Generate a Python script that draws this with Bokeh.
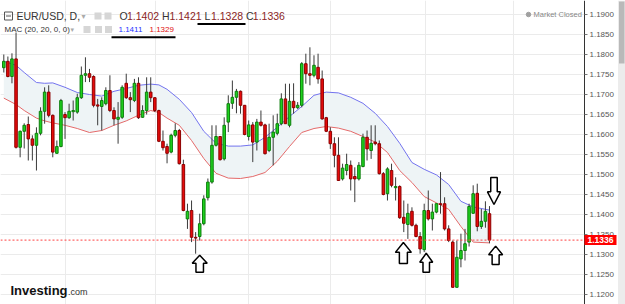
from bokeh.plotting import figure
from bokeh.models import Range1d, FixedTicker, PrintfTickFormatter, Label, ColumnDataSource, BoxAnnotation
from bokeh.embed import file_html
from bokeh.resources import INLINE

# ---------------- data (EUR/USD daily) ----------------
opens = [1.1767, 1.1783, 1.1745, 1.1789, 1.1568, 1.1608, 1.1625, 1.1589, 1.1573, 1.1603,
         1.1658, 1.1706, 1.1648, 1.1553, 1.1570, 1.1650, 1.1642, 1.1657, 1.1656, 1.1692,
         1.1748, 1.1752, 1.1745, 1.1674, 1.1670, 1.1677, 1.1710, 1.1660, 1.1638, 1.1643,
         1.1728, 1.1692, 1.1685, 1.1728, 1.1643, 1.1660, 1.1706, 1.1692, 1.1660, 1.1583,
         1.1570, 1.1556, 1.1598, 1.1610, 1.1525, 1.1389, 1.1410, 1.1343, 1.1345, 1.1377,
         1.1442, 1.1481, 1.1573, 1.1595, 1.1539, 1.1631, 1.1678, 1.1693, 1.1708, 1.1673,
         1.1595, 1.1624, 1.1581, 1.1631, 1.1624, 1.1560, 1.1593, 1.1603, 1.1627, 1.1689,
         1.1623, 1.1683, 1.1667, 1.1673, 1.1777, 1.1752, 1.1748, 1.1768, 1.1739, 1.1642,
         1.1608, 1.1577, 1.1548, 1.1489, 1.1510, 1.1523, 1.1495, 1.1489, 1.1520, 1.1593,
         1.1560, 1.1581, 1.1577, 1.1502, 1.1452, 1.1510, 1.1467, 1.1470, 1.1393, 1.1375,
         1.1408, 1.1373, 1.1345, 1.1312, 1.1410, 1.1389, 1.1406, 1.1427, 1.1427, 1.1364,
         1.1331, 1.1218, 1.1289, 1.1310, 1.1331, 1.1403, 1.1453, 1.1370, 1.1383, 1.1402]
highs = [1.1800, 1.1795, 1.1803, 1.1855, 1.1610, 1.1628, 1.1645, 1.1598, 1.1618, 1.1668,
         1.1718, 1.1723, 1.1650, 1.1585, 1.1689, 1.1656, 1.1677, 1.1685, 1.1702, 1.1770,
         1.1793, 1.1764, 1.1748, 1.1689, 1.1693, 1.1718, 1.1748, 1.1668, 1.1681, 1.1723,
         1.1752, 1.1706, 1.1739, 1.1743, 1.1673, 1.1743, 1.1743, 1.1693, 1.1662, 1.1610,
         1.1577, 1.1602, 1.1628, 1.1614, 1.1537, 1.1427, 1.1435, 1.1356, 1.1402, 1.1448,
         1.1490, 1.1623, 1.1623, 1.1595, 1.1643, 1.1698, 1.1735, 1.1714, 1.1710, 1.1673,
         1.1635, 1.1631, 1.1639, 1.1660, 1.1627, 1.1627, 1.1648, 1.1652, 1.1703, 1.1727,
         1.1727, 1.1728, 1.1681, 1.1781, 1.1802, 1.1818, 1.1798, 1.1802, 1.1760, 1.1644,
         1.1618, 1.1593, 1.1593, 1.1527, 1.1552, 1.1535, 1.1518, 1.1531, 1.1602, 1.1610,
         1.1623, 1.1623, 1.1585, 1.1506, 1.1518, 1.1527, 1.1493, 1.1473, 1.1435, 1.1427,
         1.1418, 1.1377, 1.1356, 1.1427, 1.1460, 1.1427, 1.1428, 1.1506, 1.1443, 1.1373,
         1.1335, 1.1335, 1.1352, 1.1364, 1.1427, 1.1473, 1.1477, 1.1414, 1.1433, 1.1421]
lows = [1.1755, 1.1743, 1.1728, 1.1565, 1.1543, 1.1565, 1.1535, 1.1535, 1.1510, 1.1598,
        1.1627, 1.1643, 1.1543, 1.1552, 1.1568, 1.1589, 1.1639, 1.1635, 1.1652, 1.1689,
        1.1731, 1.1731, 1.1668, 1.1623, 1.1610, 1.1673, 1.1656, 1.1623, 1.1577, 1.1639,
        1.1689, 1.1656, 1.1681, 1.1639, 1.1642, 1.1650, 1.1681, 1.1656, 1.1581, 1.1560,
        1.1528, 1.1553, 1.1593, 1.1525, 1.1408, 1.1364, 1.1331, 1.1302, 1.1335, 1.1373,
        1.1435, 1.1477, 1.1570, 1.1535, 1.1535, 1.1606, 1.1664, 1.1653, 1.1652, 1.1598,
        1.1585, 1.1531, 1.1560, 1.1620, 1.1550, 1.1556, 1.1523, 1.1598, 1.1623, 1.1627,
        1.1618, 1.1652, 1.1664, 1.1668, 1.1727, 1.1723, 1.1743, 1.1727, 1.1637, 1.1606,
        1.1564, 1.1518, 1.1485, 1.1485, 1.1498, 1.1460, 1.1431, 1.1485, 1.1518, 1.1535,
        1.1539, 1.1573, 1.1500, 1.1448, 1.1435, 1.1468, 1.1435, 1.1389, 1.1356, 1.1339,
        1.1370, 1.1343, 1.1302, 1.1306, 1.1385, 1.1360, 1.1403, 1.1402, 1.1360, 1.1331,
        1.1217, 1.1217, 1.1268, 1.1285, 1.1320, 1.1402, 1.1358, 1.1364, 1.1367, 1.1328]
closes = [1.1783, 1.1745, 1.1789, 1.1568, 1.1608, 1.1623, 1.1589, 1.1573, 1.1603, 1.1658,
          1.1706, 1.1648, 1.1556, 1.1570, 1.1685, 1.1642, 1.1658, 1.1660, 1.1692, 1.1748,
          1.1752, 1.1743, 1.1673, 1.1671, 1.1685, 1.1710, 1.1660, 1.1639, 1.1643, 1.1718,
          1.1692, 1.1687, 1.1728, 1.1642, 1.1660, 1.1706, 1.1692, 1.1660, 1.1583, 1.1567,
          1.1553, 1.1598, 1.1610, 1.1527, 1.1410, 1.1408, 1.1343, 1.1341, 1.1377, 1.1439,
          1.1481, 1.1573, 1.1595, 1.1537, 1.1623, 1.1677, 1.1693, 1.1708, 1.1673, 1.1600,
          1.1624, 1.1581, 1.1631, 1.1623, 1.1552, 1.1593, 1.1606, 1.1627, 1.1689, 1.1627,
          1.1683, 1.1667, 1.1673, 1.1777, 1.1752, 1.1748, 1.1773, 1.1739, 1.1639, 1.1608,
          1.1577, 1.1548, 1.1485, 1.1516, 1.1525, 1.1489, 1.1489, 1.1523, 1.1593, 1.1564,
          1.1578, 1.1577, 1.1502, 1.1450, 1.1514, 1.1473, 1.1470, 1.1392, 1.1378, 1.1403,
          1.1373, 1.1345, 1.1314, 1.1410, 1.1389, 1.1406, 1.1427, 1.1425, 1.1364, 1.1335,
          1.1218, 1.1293, 1.1310, 1.1327, 1.1420, 1.1452, 1.1370, 1.1383, 1.1408, 1.1336]

# moving-average channel (20, 20), read at sampled candle positions
ma_idx = [0, 3, 5, 8, 10, 12, 15, 18, 21, 24, 27, 30, 33, 36, 38, 40, 43, 46, 49, 52, 55,
          58, 61, 64, 67, 70, 73, 76, 79, 82, 85, 88, 91, 94, 97, 100, 103, 106, 109, 112, 115, 119]
ma_upper = [1.1783, 1.1773, 1.1755, 1.1730, 1.1728, 1.1729, 1.1718, 1.1705, 1.1700, 1.1696, 1.1708,
            1.1715, 1.1723, 1.1726, 1.1724, 1.1713, 1.1688, 1.1655, 1.1608, 1.1578, 1.1571,
            1.1571, 1.1574, 1.1593, 1.1618, 1.1645, 1.1670, 1.1698, 1.1706, 1.1704, 1.1693,
            1.1678, 1.1653, 1.1620, 1.1578, 1.1530, 1.1513, 1.1499, 1.1475, 1.1433, 1.1419, 1.1411]
ma_lower = [1.1691, 1.1675, 1.1660, 1.1641, 1.1634, 1.1629, 1.1623, 1.1615, 1.1605, 1.1610, 1.1623,
            1.1634, 1.1648, 1.1660, 1.1655, 1.1641, 1.1623, 1.1585, 1.1540, 1.1503, 1.1491,
            1.1490, 1.1495, 1.1505, 1.1533, 1.1570, 1.1605, 1.1615, 1.1620, 1.1616, 1.1608,
            1.1595, 1.1581, 1.1555, 1.1510, 1.1480, 1.1445, 1.1429, 1.1413, 1.1370, 1.1331, 1.1329]

y_ticks = [1.1200, 1.1250, 1.1300, 1.1350, 1.1400, 1.1450, 1.1500, 1.1550,
           1.1600, 1.1650, 1.1700, 1.1750, 1.1800, 1.1850, 1.1900]
month_grid = [15.1, 37.2, 60.0, 80.0, 103.3, 125.0]

# annotation arrows: candle position, tip price, direction (1 = up, -1 = down)
arrow_idx = [48.0, 97.9, 103.5, 120.5, 120.1]
arrow_tip = [1.1298, 1.1330, 1.1303, 1.1321, 1.1425]
arrow_dir = [1, 1, 1, 1, -1]

symbol = "EUR/USD, D,"
ohlc_labels = ["O", "H", "L", "C"]
ma_label = "MAC (20, 20, 0, 0)"
ma_last_upper = "1.1411"
ma_last_lower = "1.1329"

# ---------------- layout / scales ----------------
PX_PER_IDX = 4.0815
PX_PER_PRICE = 4000.0
CANVAS_W, FRAME_H = 625, 304
AXIS_PX = 584            # where the price axis sits
X0 = -3.3 / PX_PER_IDX
X1 = X0 + CANVAS_W / PX_PER_IDX
Y_TOP = 1.1935
Y_BOT = Y_TOP - FRAME_H / PX_PER_PRICE


def dx(px):
    return X0 + px / PX_PER_IDX


def dy(py):
    return Y_TOP - py / PX_PER_PRICE


FONT = "Liberation Sans"
UP_FILL, UP_LINE = "#1ed31e", "#0d7d0d"
DN_FILL, DN_LINE = "#e80a0a", "#8c0000"
WICK = "#3a3a3a"

p = figure(width=625, height=304, x_range=Range1d(X0, X1), y_range=Range1d(Y_BOT, Y_TOP),
           x_axis_location=None, y_axis_location="right", toolbar_location=None,
           output_backend="svg", min_border_left=0, min_border_right=0,
           min_border_top=0, min_border_bottom=0)
p.outline_line_color = None
p.background_fill_color = "white"
p.border_fill_color = "white"

ax = p.yaxis[0]
ax.fixed_location = dx(AXIS_PX)
ax.ticker = FixedTicker(ticks=y_ticks)
ax.formatter = PrintfTickFormatter(format="%.4f")
ax.major_label_text_font = FONT
ax.major_label_text_font_size = "8px"
ax.major_label_text_color = "#555555"
ax.axis_line_color = "#333333"
ax.major_tick_line_color = "#777777"
ax.major_tick_out = 3
ax.major_tick_in = 0
ax.minor_tick_line_color = None
ax.major_label_standoff = 2

p.ygrid.ticker = FixedTicker(ticks=y_ticks)
p.ygrid.grid_line_color = "#ebebeb"
p.xgrid.ticker = FixedTicker(ticks=month_grid)
p.xgrid.grid_line_color = "#ebebeb"

# channel band + lines
p.varea(x=ma_idx, y1=ma_lower, y2=ma_upper, fill_color="#eef4f6")
p.line(ma_idx, ma_upper, line_color="#7373ee", line_width=1)
p.line(ma_idx, ma_lower, line_color="#e46a6a", line_width=1)

# candles
n = len(opens)
up = [c >= o for o, c in zip(opens, closes)]
src = ColumnDataSource(dict(
    x=list(range(n)), h=highs, l=lows,
    top=[max(o, c) for o, c in zip(opens, closes)],
    bottom=[min(o, c) for o, c in zip(opens, closes)],
    fill=[UP_FILL if u else DN_FILL for u in up],
    edge=[UP_LINE if u else DN_LINE for u in up],
))
p.segment(x0="x", y0="l", x1="x", y1="h", source=src, line_color=WICK, line_width=1)
p.vbar(x="x", width=0.62, top="top", bottom="bottom", fill_color="fill",
       line_color="edge", line_width=1, source=src)

# last price dotted line (ends at the axis)
last_price = closes[-1]
p.segment(x0=[X0], y0=[last_price], x1=[dx(AXIS_PX)], y1=[last_price],
          line_color="#ff4040", line_dash="2 2", line_width=1)

# white strip behind the price scale (hides grid there)
p.quad(left=[dx(AXIS_PX)], right=[X1], bottom=[Y_BOT], top=[Y_TOP],
       fill_color="white", line_color=None)
# scrollbar at the right edge
p.add_layout(BoxAnnotation(left=dx(617.5), right=X1, top=Y_TOP, bottom=Y_BOT,
                           fill_color="#ececec", fill_alpha=1.0, line_color=None, level="overlay"))
p.add_layout(BoxAnnotation(left=dx(618.5), right=dx(624), top=dy(1), bottom=dy(63),
                           fill_color="#b9b9b9", fill_alpha=1.0, line_color=None, level="overlay"))

# arrows
arrow_w_px = [15, 16, 13, 14, 13]
arrow_h_px = [17, 21, 19, 18.5, 27]
xs, ys = [], []
for ai, tip, d, wpx, hpx in zip(arrow_idx, arrow_tip, arrow_dir, arrow_w_px, arrow_h_px):
    w = wpx / PX_PER_IDX
    sw = 0.5 * w
    h = d * hpx / PX_PER_PRICE
    hh = 0.47 * h
    xs.append([ai, ai + w / 2, ai + sw / 2, ai + sw / 2, ai - sw / 2, ai - sw / 2, ai - w / 2])
    ys.append([tip, tip - hh, tip - hh, tip - h, tip - h, tip - hh, tip - hh])
p.patches(xs, ys, fill_color="white", line_color="black", line_width=1.5)


def lab(px, py, text, size, color, bold=False, font=FONT, **kw):
    p.add_layout(Label(x=dx(px), y=dy(py), text=text, text_font=font,
                       text_font_size=f"{size}px", text_color=color, text_baseline="middle",
                       text_font_style="bold" if bold else "normal", **kw))


# header line 1
p.rect(x=[dx(8)], y=[dy(15.5)], width=8, height=8, width_units="screen", height_units="screen",
       fill_color=None, line_color="#555555", line_width=1)
p.segment(x0=[dx(5.5)], y0=[dy(15.5)], x1=[dx(10.5)], y1=[dy(15.5)], line_color="#555555")
lab(16, 15.5, symbol, 10.5, "#333333")
lab(81, 15.5, "\u25be", 8, "#aaaaaa", font="DejaVu Sans")
p.rect(x=[dx(97.5), dx(107.5)], y=[dy(15.5)] * 2, width=7, height=7, width_units="screen",
       height_units="screen", fill_color="#d6d6d6", line_color=None)
vals = [opens[-1], highs[-1], lows[-1], closes[-1]]
for lx, nx, letter, v in zip([119, 161.5, 204, 245.5], [126.5, 169, 210.5, 252.3], ohlc_labels, vals):
    lab(lx, 15.5, letter, 10.5, "#333333")
    lab(nx, 15.5, f"{v:.4f}", 10.5, "#8b2525")

# header line 2
lab(4, 29, ma_label, 8, "#333333")
lab(70, 29, "\u25be", 7, "#aaaaaa", font="DejaVu Sans")
p.rect(x=[dx(86.5), dx(98), dx(108)], y=[dy(29)] * 3, width=7, height=7, width_units="screen",
       height_units="screen", fill_color="#d6d6d6", line_color=None)
lab(118, 29, ma_last_upper, 8, "#2233ff")
lab(149, 29, ma_last_lower, 8, "#e01010")

# hand-drawn underlines
p.segment(x0=[dx(197), dx(111)], y0=[dy(23.5), dy(36.8)], x1=[dx(245), dx(175)],
          y1=[dy(23.5), dy(36.8)], line_color="black", line_width=2)

# market closed
p.scatter(x=[dx(528)], y=[dy(14)], size=4.5, color="#a0a0a0")
lab(533, 14, "Market Closed", 7.5, "#888888")

# logo
lab(10, 289.5, "Investing", 13, "#111111", bold=True)
lab(67.5, 291, ".com", 9, "#333333")

# last price tag on the axis
p.add_layout(Label(x=dx(AXIS_PX), y=last_price, text=f"{last_price:.4f}",
                   text_font=FONT, text_font_size="8.5px", text_color="white",
                   text_font_style="bold", text_baseline="middle",
                   background_fill_color="#ff0000", padding=(3, 2)))

open("out.html", "w").write(file_html(p, INLINE))
